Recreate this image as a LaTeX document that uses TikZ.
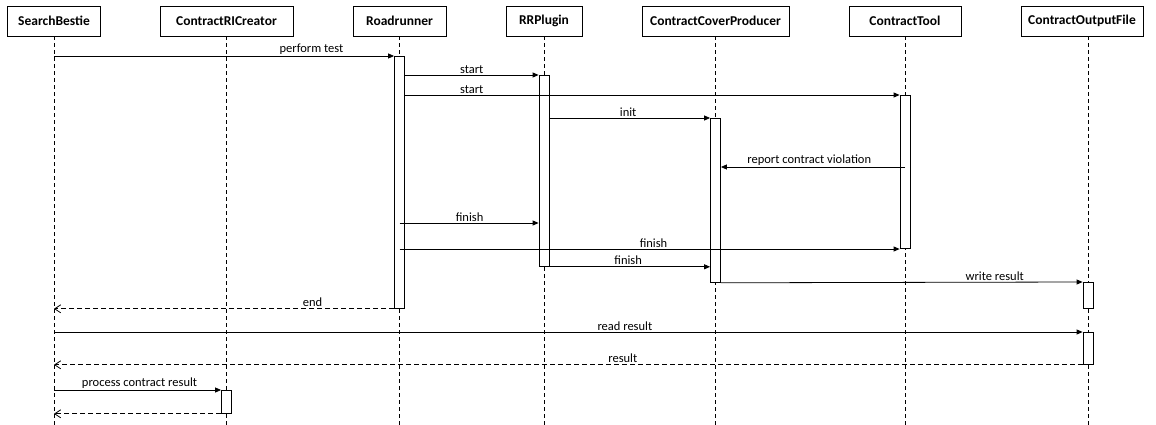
\documentclass[tikz,border=0pt]{standalone}
\usepackage{fontspec}
\setmainfont{Carlito}
\usetikzlibrary{arrows.meta}
\begin{document}
\begin{tikzpicture}[x=1pt,y=-1pt,
 head/.style={draw, line width=0.8pt, minimum height=30pt, inner sep=0pt, font=\fontsize{13.5}{15}\selectfont\bfseries},
 lifeline/.style={draw, line width=0.8pt, dash pattern=on 4pt off 3pt},
 actbar/.style={draw, fill=white, line width=0.8pt, minimum width=10pt, inner sep=0pt, anchor=north},
 msg/.style={line width=0.8pt, -{Triangle[length=6pt,width=5pt]}},
 ret/.style={line width=0.8pt, dash pattern=on 5pt off 3pt, -{Straight Barb[length=6pt,width=8pt]}},
 lbl/.style={inner sep=0.5pt, above=1pt, font=\fontsize{12.5}{14}\selectfont}
]
\useasboundingbox (0,0) rectangle (1156,425);
\coordinate (bot) at (0,425);
% headers
\node[head, minimum width=93pt]  (sb)  at (54,21)    {SearchBestie};
\node[head, minimum width=133pt] (crc) at (226.5,21) {ContractRICreator};
\node[head, minimum width=93pt]  (rr)  at (399.5,21) {Roadrunner};
\node[head, minimum width=76pt]  (rrp) at (544,21)   {RRPlugin};
\node[head, minimum width=147pt] (ccp) at (715.5,21) {ContractCoverProducer};
\node[head, minimum width=112pt] (ct)  at (905,21)   {ContractTool};
\node[head, minimum width=122pt] (cof) at (1082,21)  {ContractOutputFile};
% lifelines
\draw[lifeline] (sb.south) -- (sb.south |- bot);
\draw[lifeline] (crc.south) -- (crc.south |- bot);
\draw[lifeline] (rr.south) -- (rr.south |- bot);
\draw[lifeline] (rrp.south) -- (rrp.south |- bot);
\draw[lifeline] (ccp.south) -- (ccp.south |- bot);
\draw[lifeline] (ct.south) -- (ct.south |- bot);
\draw[lifeline] ([xshift=6pt]cof.south) -- ([xshift=6pt]cof.south |- bot);
% activation bars
\node[actbar, minimum height=252pt] (rrbar)  at (399.5,56) {};
\node[actbar, minimum height=191pt] (rrpbar) at (544,75) {};
\node[actbar, minimum height=153pt] (ctbar)  at (905,95) {};
\node[actbar, minimum height=164pt] (ccpbar) at (715.5,118) {};
\node[actbar, minimum height=26pt]  (cofbar1) at (1088,282) {};
\node[actbar, minimum height=32pt]  (cofbar2) at (1088,332) {};
\node[actbar, minimum height=23pt]  (crcbar) at (226.5,390) {};
% messages
\draw[msg] (sb.south |- rrbar.north) -- (rrbar.north west) node[lbl, pos=0.757] {perform test};
\draw[msg] (rrbar.east |- rrpbar.north) -- (rrpbar.north west) node[lbl, pos=0.5] {start};
\draw[msg] (rrbar.east |- ctbar.north) -- (ctbar.north west) node[lbl, pos=0.135] {start};
\draw[msg] (rrpbar.east |- ccpbar.north) -- (ccpbar.north west) node[lbl, pos=0.49] {init};
\coordinate (rep) at (905,167);
\draw[msg] (rep) -- (ccpbar.east |- rep) node[lbl, pos=0.52] {report contract violation};
\coordinate (f1) at (399.5,223);
\draw[msg] (f1) -- (rrpbar.west |- f1) node[lbl, pos=0.504] {finish};
\coordinate (f2) at (399.5,249);
\draw[msg] (f2) -- (ctbar.west |- f2) node[lbl, pos=0.508] {finish};
\draw[msg] (rrpbar.south east) -- (ccpbar.west |- rrpbar.south) node[lbl, pos=0.49] {finish};
\draw[msg] (ccpbar.south east) -- (cofbar1.north west) node[lbl, pos=0.757] {write result};
\draw[ret] (rrbar.south west) -- (sb.south |- rrbar.south) node[lbl, pos=0.24] {end};
\draw[msg] (sb.south |- cofbar2.north) -- (cofbar2.north west) node[lbl, pos=0.555] {read result};
\draw[ret] (cofbar2.south west) -- (sb.south |- cofbar2.south) node[lbl, pos=0.447] {result};
\draw[msg] (sb.south |- crcbar.north) -- (crcbar.north west) node[lbl, pos=0.512] {process contract result};
\draw[ret] (crcbar.south west) -- (sb.south |- crcbar.south);
\end{tikzpicture}
\end{document}
